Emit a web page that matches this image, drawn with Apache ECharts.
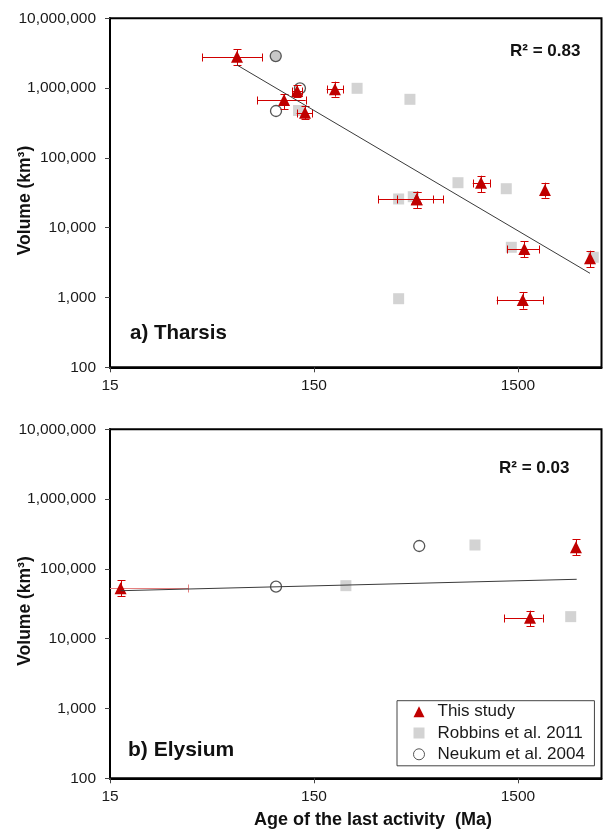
<!DOCTYPE html>
<html><head><meta charset="utf-8">
<script src="https://cdn.jsdelivr.net/npm/echarts@6/dist/echarts.min.js"></script>
<style>html,body{margin:0;padding:0;background:#fff}#c{width:603px;height:829px}</style>
</head><body><div id="c"></div>
<script>
// ---------- data ----------
const xTickLabels = [15, 150, 1500];          // Age axis tick labels (Ma)
const xMin = 15, xMax = 3850;                  // Age axis range (log)
const yMin = 100, yMax = 10000000;             // Volume axis range (log)

// a) Tharsis - This study
const aStudyAge   = [62.9, 107, 124, 135.5, 190, 478, 478, 988, 2034, 1611, 1583, 3381];
const aStudyAgeLo = [42.5, 79, 117, 123.4, 173, 310, 383, 900, 2034, 1329, 1179, 3381];
const aStudyAgeHi = [83.7, 136.6, 131, 147.2, 208.8, 645.6, 576.6, 1093, 2034, 1908, 1995, 3381];
const aStudyVol   = [2820000, 675000, 909000, 444000, 961000, 25500, 25500, 44100, 34700, 4950, 920, 3650];
const aStudyVolLo = [2140000, 502000, 745000, 357000, 753000, 19300, 19300, 32200, 26900, 3770, 691, 2710];
const aStudyVolHi = [3600000, 823000, 1110000, 560000, 1236000, 32800, 32800, 55600, 44100, 6380, 1200, 4680];
// a) Tharsis - Robbins et al. 2011
const aRobAge = [126, 244, 443, 762, 1314, 390, 460, 1391, 3509, 390];
const aRobVol = [478000, 993000, 691000, 44100, 36200, 25800, 27800, 5240, 3770, 961];
// a) Tharsis - Neukum et al. 2004
const aNeuAge = [97.4, 97.7, 128];
const aNeuVol = [2880000, 470000, 993000];
// a) trend line
const aTrendAge = [62.9, 3381];
const aTrendVol = [2140000, 2223];

// b) Elysium - This study
const bStudyAge   = [16.9, 2886, 1718];
const bStudyAgeLo = [11, 2886, 1286];
const bStudyAgeHi = [36.3, 2886, 1982];
const bStudyVol   = [52700, 204000, 20000];
const bStudyVolLo = [40900, 158000, 15200];
const bStudyVolHi = [69300, 268000, 25200];
// b) Elysium - Robbins et al. 2011
const bRobAge = [215, 923, 2720];
const bRobVol = [57500, 220000, 20700];
// b) Elysium - Neukum et al. 2004
const bNeuAge = [97.7, 492];
const bNeuVol = [55600, 213000];
// b) trend line
const bTrendAge = [16.9, 2910];
const bTrendVol = [48700, 71000];

const panelTitles = ['a) Tharsis', 'b) Elysium'];
const r2Texts = ['R\u00B2 = 0.83', 'R\u00B2 = 0.03'];
const seriesNames = ['This study', 'Robbins et al. 2011', 'Neukum et al. 2004'];

// ---------- chart ----------
const FONT = "'Liberation Sans', Arial, Helvetica, sans-serif";
const RED = '#c00000';
const BAR = '#d00000';
const lx = v => Math.log10(v / xMin);
const xTickVals = xTickLabels.map(lx);

function errRender(params, api) {
  const x = api.value(0), y = api.value(1);
  const xl = api.value(2), xh = api.value(3), yl = api.value(4), yh = api.value(5);
  const cap = 4;
  const faded = params.seriesId === 'errB' && params.dataIndex === 0;
  const hs = () => ({ stroke: faded ? '#e58080' : BAR, lineWidth: 1, fill: null });
  const vs = () => ({ stroke: BAR, lineWidth: 1, fill: null });
  const r = v => Math.round(v) + 0.5;
  const ch = [];
  if (xh > xl) {
    const p1 = api.coord([xl, y]), p2 = api.coord([xh, y]);
    const yy = r(p1[1]);
    ch.push({ type: 'line', shape: { x1: p1[0], y1: yy, x2: p2[0], y2: yy }, style: hs() });
    ch.push({ type: 'line', shape: { x1: r(p1[0]), y1: yy - cap, x2: r(p1[0]), y2: yy + cap }, style: hs() });
    ch.push({ type: 'line', shape: { x1: r(p2[0]), y1: yy - cap, x2: r(p2[0]), y2: yy + cap }, style: hs() });
  }
  if (yh > yl) {
    const p1 = api.coord([x, yl]), p2 = api.coord([x, yh]);
    const xx = r(p1[0]);
    ch.push({ type: 'line', shape: { x1: xx, y1: p1[1], x2: xx, y2: p2[1] }, style: vs() });
    ch.push({ type: 'line', shape: { x1: xx - cap, y1: r(p1[1]), x2: xx + cap, y2: r(p1[1]) }, style: vs() });
    ch.push({ type: 'line', shape: { x1: xx - cap, y1: r(p2[1]), x2: xx + cap, y2: r(p2[1]) }, style: vs() });
  }
  return { type: 'group', children: ch };
}

function panelSeries(i, tag, sAge, sLo, sHi, sVol, sVLo, sVHi, rAge, rVol, nAge, nVol, tAge, tVol, greyFirstCircle) {
  return [
    { type: 'scatter', name: seriesNames[1], xAxisIndex: i, yAxisIndex: i, symbol: 'rect', symbolSize: 11,
      itemStyle: { color: '#d3d3d3', opacity: 1 }, z: 2, silent: true,
      data: rAge.map((a, k) => [lx(a), rVol[k]]) },
    { type: 'scatter', name: seriesNames[2], xAxisIndex: i, yAxisIndex: i, symbol: 'circle', symbolSize: 11,
      itemStyle: { color: '#ffffff', borderColor: '#555555', borderWidth: 1.3, opacity: 1 }, z: 3, silent: true,
      data: nAge.map((a, k) => (greyFirstCircle && k === 0)
        ? { value: [lx(a), nVol[k]], itemStyle: { color: '#c8c8c8' } }
        : [lx(a), nVol[k]]) },
    { type: 'custom', id: 'err' + tag, xAxisIndex: i, yAxisIndex: i, z: 4, clip: true, silent: true,
      renderItem: errRender,
      itemStyle: { color: BAR },
      encode: { x: 0, y: 1 },
      data: sAge.map((a, k) => [lx(a), sVol[k], lx(sLo[k]), lx(sHi[k]), sVLo[k], sVHi[k]]) },
    { type: 'scatter', name: seriesNames[0], xAxisIndex: i, yAxisIndex: i, symbol: 'triangle', symbolSize: 12,
      itemStyle: { color: RED, opacity: 1 }, z: 5, silent: true,
      data: sAge.map((a, k) => [lx(a), sVol[k]]) },
    { type: 'line', xAxisIndex: i, yAxisIndex: i, showSymbol: false, symbol: 'none', z: 6, silent: true,
      lineStyle: { color: '#3a3a3a', width: 1 },
      data: tAge.map((a, k) => [lx(a), tVol[k]]) }
  ];
}

const grids = [
  { left: 110, top: 18.3, width: 491.5, height: 349 },
  { left: 110, top: 429.3, width: 491.5, height: 349 }
].map(g => Object.assign(g, { show: true, borderColor: '#000', borderWidth: 2, backgroundColor: 'transparent' }));

const xAxes = [0, 1].map(i => ({
  type: 'value', gridIndex: i, min: 0, max: lx(xMax),
  axisLine: { show: true, lineStyle: { color: '#000', width: 2 } },
  axisTick: { show: true, customValues: xTickVals, length: 5, lineStyle: { color: '#444', width: 1 } },
  axisLabel: { customValues: xTickVals, margin: 10, fontSize: 15.5, fontFamily: FONT, color: '#1a1a1a',
    formatter: v => String(Math.round(xMin * Math.pow(10, v))) },
  splitLine: { show: false }
}));

const yAxes = [0, 1].map(i => ({
  type: 'log', logBase: 10, gridIndex: i, min: yMin, max: yMax,
  axisLine: { show: true, lineStyle: { color: '#000', width: 2 } },
  axisTick: { show: true, length: 5, lineStyle: { color: '#444', width: 1 } },
  axisLabel: { margin: 14, fontSize: 15.5, fontFamily: FONT, color: '#1a1a1a',
    formatter: v => Math.round(v).toLocaleString('en-US') },
  splitLine: { show: false }, minorTick: { show: false }
}));

const txt = (text, x, y, font, extra) => Object.assign({
  type: 'text', x, y, silent: true,
  style: Object.assign({ text, font, fill: '#111', align: 'left', verticalAlign: 'middle',
    textAlign: 'left', textVerticalAlign: 'middle' }, extra || {})
}, {});

const graphics = [
  txt(panelTitles[0], 130, 333, `bold 20.5px ${FONT}`),
  txt(panelTitles[1], 128, 750, `bold 21px ${FONT}`),
  txt(r2Texts[0], 510, 51, `bold 17px ${FONT}`),
  txt(r2Texts[1], 499, 468.5, `bold 17px ${FONT}`),
  Object.assign(txt('Volume (km\u00B3)', 25, 200.5, `bold 17.5px ${FONT}`,
    { align: 'center', textAlign: 'center' }), { rotation: Math.PI / 2 }),
  Object.assign(txt('Volume (km\u00B3)', 25, 611, `bold 17.5px ${FONT}`,
    { align: 'center', textAlign: 'center' }), { rotation: Math.PI / 2 }),
  txt('Age of the last activity  (Ma)', 373, 820, `bold 18px ${FONT}`, { align: 'center', textAlign: 'center' })
];

const option = {
  animation: false,
  backgroundColor: '#fff',
  grid: grids,
  xAxis: xAxes,
  yAxis: yAxes,
  legend: {
    orient: 'vertical', left: 397, top: 700.7,
    padding: [2.5, 9.5, 3, 16],
    borderColor: '#444', borderWidth: 1,
    itemWidth: 11, itemHeight: 11, itemGap: 4.3,
    symbolKeepAspect: true,
    selectedMode: false,
    textStyle: { fontSize: 17, fontFamily: FONT, color: '#1a1a1a', lineHeight: 17, padding: [0, 0, 0, 8] },
    data: [
      { name: seriesNames[0], icon: 'triangle' },
      { name: seriesNames[1], icon: 'rect' },
      { name: seriesNames[2], icon: 'circle', itemStyle: { borderWidth: 1 } }
    ]
  },
  graphic: graphics,
  series: [
    ...panelSeries(0, 'A', aStudyAge, aStudyAgeLo, aStudyAgeHi, aStudyVol, aStudyVolLo, aStudyVolHi,
      aRobAge, aRobVol, aNeuAge, aNeuVol, aTrendAge, aTrendVol, true),
    ...panelSeries(1, 'B', bStudyAge, bStudyAgeLo, bStudyAgeHi, bStudyVol, bStudyVolLo, bStudyVolHi,
      bRobAge, bRobVol, bNeuAge, bNeuVol, bTrendAge, bTrendVol, false)
  ]
};

const chart = echarts.init(document.getElementById('c'), null, { renderer: 'canvas', width: 603, height: 829 });
chart.setOption(option);
</script></body></html>
